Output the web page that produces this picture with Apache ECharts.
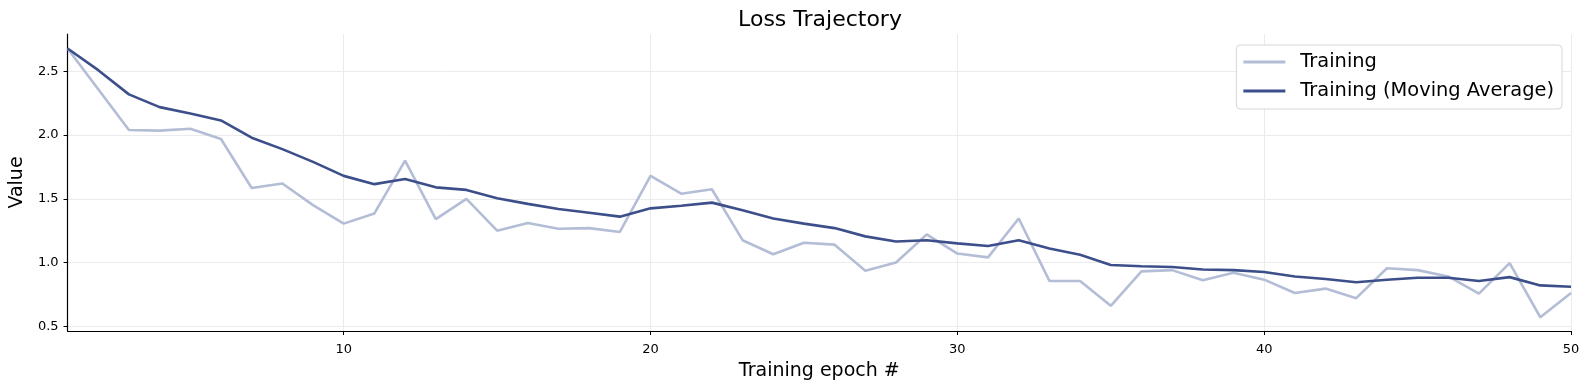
<!DOCTYPE html>
<html>
<head>
<meta charset="utf-8">
<script src="https://cdn.jsdelivr.net/npm/echarts@6/dist/echarts.min.js"></script>
<style>
html,body{margin:0;padding:0;background:#fff;}
#chart{width:1590px;height:390px;}
</style>
</head>
<body>
<div id="chart"></div>
<script>
const epochs = [1,2,3,4,5,6,7,8,9,10,11,12,13,14,15,16,17,18,19,20,21,22,23,24,25,26,27,28,29,30,31,32,33,34,35,36,37,38,39,40,41,42,43,44,45,46,47,48,49,50];
const training = [2.68,2.36,2.04,2.035,2.05,1.97,1.585,1.62,1.45,1.305,1.385,1.80,1.34,1.50,1.25,1.31,1.265,1.27,1.24,1.68,1.54,1.575,1.175,1.065,1.155,1.14,0.935,1.00,1.22,1.07,1.04,1.345,0.855,0.855,0.66,0.93,0.94,0.86,0.92,0.865,0.76,0.795,0.72,0.955,0.94,0.89,0.755,0.995,0.57,0.76];
const movingAvg = [2.68,2.51,2.32,2.22,2.17,2.115,1.98,1.89,1.79,1.68,1.615,1.655,1.59,1.57,1.505,1.46,1.42,1.39,1.36,1.425,1.445,1.47,1.41,1.345,1.305,1.27,1.205,1.165,1.175,1.15,1.13,1.175,1.11,1.06,0.98,0.97,0.965,0.945,0.94,0.925,0.89,0.87,0.845,0.865,0.88,0.88,0.855,0.885,0.82,0.81];
const xTicks = [10,20,30,40,50];
const yTicks = [0.5,1.0,1.5,2.0,2.5];

const FONT = 'DejaVu Sans';
const chart = echarts.init(document.getElementById('chart'), null, {renderer:'canvas'});
chart.setOption({
  animation:false,
  backgroundColor:'#ffffff',
  title:{
    text:'Loss Trajectory', left:815, textAlign:'center', top:4,
    textStyle:{fontFamily:FONT, fontSize:22, fontWeight:'normal', color:'#000'}
  },
  legend:{
    orient:'vertical', right:28, top:45,
    backgroundColor:'#fff', borderColor:'#d6d6d6', borderWidth:1, borderRadius:4,
    padding:[6,8,7,7], itemGap:7, itemWidth:42, itemHeight:3, icon:'rect',
    textStyle:{fontFamily:FONT, fontSize:19.4, color:'#000', lineHeight:22, padding:[0,0,0,10]},
    data:['Training','Training (Moving Average)']
  },
  grid:{left:66, right:19, top:34, bottom:59, containLabel:false},
  xAxis:{
    type:'value', min:1, max:50,
    name:'Training epoch #', nameLocation:'middle', nameGap:31,
    nameTextStyle:{fontFamily:FONT, fontSize:19, color:'#000'},
    axisLine:{show:true, onZero:false, lineStyle:{color:'#000', width:1.2}},
    axisTick:{show:true, length:4, lineStyle:{color:'#000'}, customValues:xTicks},
    axisLabel:{fontFamily:FONT, fontSize:13, color:'#000', margin:12, customValues:xTicks},
    splitLine:{show:true, lineStyle:{color:'#ebebeb', width:1}}
  },
  yAxis:{
    type:'value', min:0.462, max:2.794,
    name:'Value', nameLocation:'middle', nameGap:31,
    nameTextStyle:{fontFamily:FONT, fontSize:19, color:'#000'},
    axisLine:{show:true, onZero:false, lineStyle:{color:'#000', width:1.2}},
    axisTick:{show:true, length:4, lineStyle:{color:'#000'}, customValues:yTicks},
    axisLabel:{fontFamily:FONT, fontSize:13, color:'#000', margin:9, customValues:yTicks,
      formatter:v=>v.toFixed(1)},
    splitLine:{show:true, lineStyle:{color:'#ebebeb', width:1}}
  },
  series:[
    {name:'Training', type:'line', symbol:'none', showSymbol:false,
     data:epochs.map((e,i)=>[e,training[i]]),
     lineStyle:{color:'#b4bdd6', width:2.6}, itemStyle:{color:'#b4bdd6'}, z:2},
    {name:'Training (Moving Average)', type:'line', symbol:'none', showSymbol:false,
     data:epochs.map((e,i)=>[e,movingAvg[i]]),
     lineStyle:{color:'#3d4f8a', width:2.6}, itemStyle:{color:'#3d4f8a'}, z:3}
  ]
});
</script>
</body>
</html>
